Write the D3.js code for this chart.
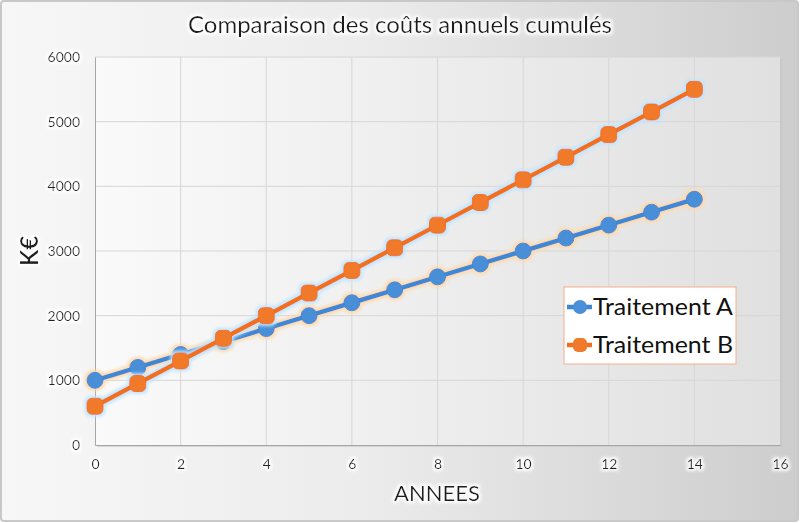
<!DOCTYPE html>
<html><head><meta charset="utf-8">
<script src="https://cdn.jsdelivr.net/npm/d3@7"></script>
<style>
html,body{margin:0;padding:0;background:#fff;}
svg{display:block;}
text{font-family:"Lato","Open Sans",sans-serif;}
</style></head>
<body>
<script>
const title = "Comparaison des coûts annuels cumulés";
const years = [0,1,2,3,4,5,6,7,8,9,10,11,12,13,14];
const seriesA = [1000,1200,1400,1600,1800,2000,2200,2400,2600,2800,3000,3200,3400,3600,3800];
const seriesB = [600,950,1300,1650,2000,2350,2700,3050,3400,3750,4100,4450,4800,5150,5500];
const seriesNames = ["Traitement A","Traitement B"];
const xTicks = [0,2,4,6,8,10,12,14,16];
const yTicks = [0,1000,2000,3000,4000,5000,6000];
const xLabel = "ANNEES";
const yLabel = "K€";

const W = 800, H = 523;
const m = {left:95, right:20, top:57, bottom:78};
const svg = d3.select("body").append("svg").attr("width",W).attr("height",H);
const defs = svg.append("defs");

const bg = defs.append("linearGradient").attr("id","bg").attr("x1","0").attr("x2","1").attr("y1","0").attr("y2","0");
bg.append("stop").attr("offset","0").attr("stop-color","#f7f7f7");
bg.append("stop").attr("offset","0.45").attr("stop-color","#ececec");
bg.append("stop").attr("offset","1").attr("stop-color","#cdcdcd");
const pg = defs.append("linearGradient").attr("id","pg").attr("x1","0").attr("x2","1").attr("y1","0").attr("y2","0");
pg.append("stop").attr("offset","0").attr("stop-color","#fafafa");
pg.append("stop").attr("offset","1").attr("stop-color","#e0e0e0");

function glow(id,color){
  const f = defs.append("filter").attr("id",id).attr("x","-20%").attr("y","-20%").attr("width","140%").attr("height","140%");
  f.append("feMorphology").attr("in","SourceAlpha").attr("operator","dilate").attr("radius",1.5).attr("result","d");
  f.append("feGaussianBlur").attr("in","d").attr("stdDeviation",1.5).attr("result","b");
  f.append("feFlood").attr("flood-color",color).attr("flood-opacity",0.9);
  f.append("feComposite").attr("in2","b").attr("operator","in").attr("result","g");
  const mg = f.append("feMerge");
  mg.append("feMergeNode").attr("in","g");
  mg.append("feMergeNode").attr("in","SourceGraphic");
}
glow("glowA","#ffd9a8");
glow("glowB","#bfe6ff");
glow("glowW","#ffffff");

svg.append("rect").attr("x",1).attr("y",1).attr("width",W-3).attr("height",H-3)
  .attr("rx",3).attr("fill","url(#bg)").attr("stroke","#c8c8c8").attr("stroke-width",2);

const x = d3.scaleLinear().domain([0,16]).range([m.left, W-m.right]);
const y = d3.scaleLinear().domain([0,6000]).range([H-m.bottom, m.top]);

// plot area
svg.append("rect").attr("x",x(0)+2).attr("y",y(6000)+2).attr("width",x(16)-x(0)).attr("height",y(0)-y(6000))
  .attr("fill","#c4c4c4").attr("opacity",0.6);
svg.append("rect").attr("x",x(0)).attr("y",y(6000)).attr("width",x(16)-x(0)).attr("height",y(0)-y(6000))
  .attr("fill","url(#pg)");

// gridlines
svg.append("g").selectAll("line").data(yTicks.filter(d=>d>0)).join("line")
  .attr("x1",x(0)).attr("x2",x(16)).attr("y1",d=>y(d)).attr("y2",d=>y(d))
  .attr("stroke","#d6d6d6").attr("stroke-width",1);
svg.append("g").selectAll("line").data(xTicks.filter(d=>d>0 && d<16)).join("line")
  .attr("y1",y(0)).attr("y2",y(6000)).attr("x1",d=>x(d)).attr("x2",d=>x(d))
  .attr("stroke","#d6d6d6").attr("stroke-width",1);

// axes
const xAxis = svg.append("g").attr("transform",`translate(0,${y(0)})`)
  .call(d3.axisBottom(x).tickValues(xTicks).tickFormat(d3.format("d")).tickSize(0).tickPadding(14));
xAxis.select(".domain").attr("stroke","#a6a6a6");
xAxis.selectAll("text").attr("font-size",14).attr("fill","#222").attr("filter","url(#glowW)")
  .style("font-family","'Liberation Sans Narrow','Lato',sans-serif");
const yAxis = svg.append("g").attr("transform",`translate(${x(0)},0)`)
  .call(d3.axisLeft(y).tickValues(yTicks).tickFormat(d3.format("d")).tickSize(0).tickPadding(15));
yAxis.select(".domain").attr("stroke","#a6a6a6");
yAxis.selectAll("text").attr("font-size",14).attr("fill","#222").attr("filter","url(#glowW)");

// title & labels
svg.append("text").attr("x",400).attr("y",33).attr("text-anchor","middle")
  .attr("font-size",24).attr("fill","#1a1a1a").attr("filter","url(#glowW)").text(title);
svg.append("text").attr("x",437).attr("y",501).attr("text-anchor","middle")
  .attr("font-size",22).attr("fill","#1a1a1a").attr("filter","url(#glowW)").text(xLabel);
svg.append("text").attr("transform",`translate(38,251) rotate(-90)`).attr("text-anchor","middle")
  .attr("font-size",24).attr("font-weight",600).attr("fill","#1a1a1a").attr("filter","url(#glowW)").text(yLabel);

const colA = "#3f87d6", colB = "#f26f1f";
const line = d3.line().x((d,i)=>x(years[i])).y(d=>y(d));

const gA = svg.append("g").attr("filter","url(#glowA)");
gA.append("path").datum(seriesA).attr("d",line).attr("fill","none").attr("stroke",colA).attr("stroke-width",4.5);
gA.selectAll("circle").data(seriesA).join("circle")
  .attr("cx",(d,i)=>x(years[i])).attr("cy",d=>y(d)).attr("r",8).attr("fill","#4a8fd8").attr("stroke",colA).attr("stroke-width",1);

const gB = svg.append("g").attr("filter","url(#glowB)");
gB.append("path").datum(seriesB).attr("d",line).attr("fill","none").attr("stroke",colB).attr("stroke-width",4.5);
gB.selectAll("rect").data(seriesB).join("rect")
  .attr("x",(d,i)=>x(years[i])-8).attr("y",d=>y(d)-8).attr("width",16).attr("height",16).attr("rx",5)
  .attr("fill","#f07a2b").attr("stroke",colB).attr("stroke-width",1);

// legend
const lg = svg.append("g");
lg.append("rect").attr("x",564).attr("y",287).attr("width",172).attr("height",77)
  .attr("fill","#ffffff").attr("stroke","#f4b08a").attr("stroke-width",1);
const ly = [307,345];
[colA,colB].forEach((c,i)=>{
  const g = lg.append("g");
  g.append("line").attr("x1",567).attr("x2",592).attr("y1",ly[i]).attr("y2",ly[i]).attr("stroke",c).attr("stroke-width",4.5);
  if(i===0) g.append("circle").attr("cx",580).attr("cy",ly[i]).attr("r",7).attr("fill","#4a8fd8");
  else g.append("rect").attr("x",573).attr("y",ly[i]-7).attr("width",14).attr("height",14).attr("rx",5).attr("fill","#f07a2b");
  g.append("text").attr("x",593).attr("y",ly[i]+8).attr("font-size",24).attr("fill","#111")
    .attr("textLength",140).attr("lengthAdjust","spacingAndGlyphs").text(seriesNames[i]);
});
</script>
</body></html>
